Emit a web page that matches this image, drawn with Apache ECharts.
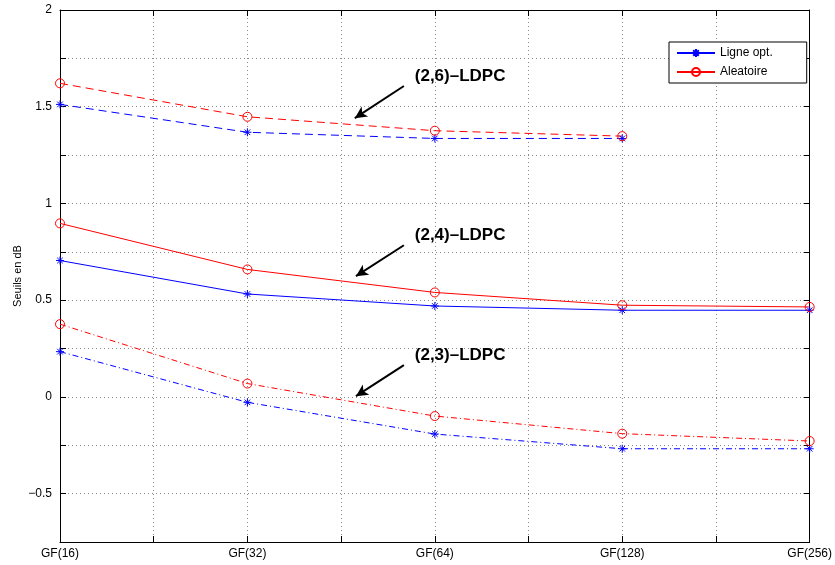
<!DOCTYPE html>
<html>
<head>
<meta charset="utf-8">
<script src="https://cdn.jsdelivr.net/npm/echarts@6/dist/echarts.min.js"></script>
<style>html,body{margin:0;padding:0;background:#fff}#c{width:835px;height:565px}</style>
</head>
<body>
<div id="c"></div>
<script>
const categories = ['GF(16)', 'GF(32)', 'GF(64)', 'GF(128)', 'GF(256)'];
const opt26 = [1.512, 1.368, 1.336, 1.336];
const ale26 = [1.621, 1.448, 1.376, 1.348];
const opt24 = [0.705, 0.532, 0.470, 0.448, 0.448];
const ale24 = [0.897, 0.659, 0.540, 0.474, 0.465];
const opt23 = [0.234, -0.028, -0.192, -0.268, -0.268];
const ale23 = [0.376, 0.069, -0.099, -0.190, -0.228];
const yTicks = [-0.5, 0, 0.5, 1, 1.5, 2];
const annotLabels = ['(2,6)\u2013LDPC', '(2,4)\u2013LDPC', '(2,3)\u2013LDPC'];
// annotation anchor points in data coordinates: [tailX, tailY, tipX, tipY, textX, textY]
const annotPos = [
  [1.835, 1.607, 1.573, 1.441, 1.893, 1.659],
  [1.835, 0.784, 1.579, 0.624, 1.893, 0.836],
  [1.835, 0.164, 1.579, 0.004, 1.893, 0.215]
];

const FONT = 'Liberation Sans, Arial, Helvetica, sans-serif';
const BLUE = '#0000ff', RED = '#ff0000';
const STAR = 'path://M0,-1L0,1M-1,0L1,0M-0.7,-0.7L0.7,0.7M-0.7,0.7L0.7,-0.7';
const toPts = arr => arr.map((v, i) => [i, v]);

function mk(name, data, color, dash, isStar) {
  return {
    name: name, type: 'line', data: toPts(data),
    symbol: isStar ? STAR : 'circle',
    symbolSize: isStar ? 8 : 9,
    showSymbol: true,
    lineStyle: { color: color, width: 1, type: dash },
    itemStyle: isStar ? { color: color, borderColor: color, borderWidth: 1 }
                      : { color: 'rgba(0,0,0,0)', borderColor: color, borderWidth: 1 },
    emphasis: { disabled: true },
    animation: false, z: 3
  };
}
const DASH = [8, 5];
const DASHDOT = [6, 3, 1, 3];

const series = [
  mk('Ligne opt.', opt24, BLUE, 'solid', true),
  mk('Aleatoire', ale24, RED, 'solid', false),
  mk('Ligne opt.', opt26, BLUE, DASH, true),
  mk('Aleatoire', ale26, RED, DASH, false),
  mk('Ligne opt.', opt23, BLUE, DASHDOT, true),
  mk('Aleatoire', ale23, RED, DASHDOT, false),
  {
    name: 'annot', type: 'line', data: [], silent: true, animation: false,
    color: '#000',
    itemStyle: { color: '#000' },
    markLine: {
      silent: true, animation: false,
      symbol: ['none', 'arrow'], symbolSize: 11,
      itemStyle: { color: '#000' },
      lineStyle: { color: '#000', width: 2, type: 'solid' },
      label: { show: false },
      emphasis: { disabled: true },
      data: annotPos.map(p => [
        { coord: [p[0], p[1]], symbol: 'none' },
        { coord: [p[2], p[3]], symbol: 'arrow', symbolSize: [9, 12], itemStyle: { color: '#000' } }
      ])
    },
    markPoint: {
      silent: true, animation: false,
      symbol: 'circle', symbolSize: 0,
      label: { show: true, position: 'right', distance: 0, color: '#000', fontWeight: 'bold', fontSize: 17, fontFamily: FONT },
      data: annotPos.map((p, i) => ({ coord: [p[4], p[5]], value: annotLabels[i], label: { formatter: annotLabels[i] } }))
    }
  }
];

const gridLine = { show: true, lineStyle: { color: '#888', type: [1, 3], width: 1 } };
const axLine = { show: true, onZero: false, lineStyle: { color: '#000', width: 1 } };
const tick = { show: true, inside: true, length: 6, lineStyle: { color: '#000' } };

const chart = echarts.init(document.getElementById('c'), null, { renderer: 'canvas' });
chart.setOption({
  backgroundColor: '#fff',
  animation: false,
  grid: { left: 60, top: 10, right: 25, bottom: 23, containLabel: false },
  legend: {
    data: ['Ligne opt.', 'Aleatoire'],
    orient: 'vertical', left: 669, top: 42,
    itemWidth: 38, itemHeight: 10, itemGap: 7,
    padding: [5, 34, 5, 7],
    borderColor: '#000', borderWidth: 1, backgroundColor: '#fff',
    lineStyle: { type: 'solid' },
    textStyle: { fontSize: 12, fontFamily: FONT, color: '#000' },
    selectedMode: false
  },
  xAxis: [
    {
      type: 'value', min: 0, max: 4, interval: 0.5,
      axisLine: axLine, axisTick: tick, splitLine: gridLine,
      axisLabel: {
        margin: 6, color: '#000', fontSize: 12, fontFamily: FONT,
        formatter: v => (Math.abs(v - Math.round(v)) < 1e-6 ? categories[Math.round(v)] : '')
      }
    },
    {
      type: 'value', min: 0, max: 4, interval: 0.5, position: 'top',
      axisLine: axLine, axisTick: tick, splitLine: { show: false }, axisLabel: { show: false }
    }
  ],
  yAxis: [
    {
      type: 'value', min: -0.75, max: 2, interval: 0.25,
      name: 'Seuils en dB', nameLocation: 'middle', nameGap: 37, nameMoveOverlap: false,
      nameTextStyle: { fontSize: 11, fontFamily: FONT, color: '#000' },
      axisLine: axLine, axisTick: tick, splitLine: gridLine,
      axisLabel: {
        margin: 8, color: '#000', fontSize: 12, fontFamily: FONT,
        formatter: v => {
          const hit = yTicks.find(t => Math.abs(t - v) < 1e-6);
          if (hit === undefined) return '';
          return hit < 0 ? '\u2212' + String(-hit) : String(hit);
        }
      }
    },
    {
      type: 'value', min: -0.75, max: 2, interval: 0.25, position: 'right',
      axisLine: axLine, axisTick: tick, splitLine: { show: false }, axisLabel: { show: false }
    }
  ],
  series: series
});
</script>
</body>
</html>
